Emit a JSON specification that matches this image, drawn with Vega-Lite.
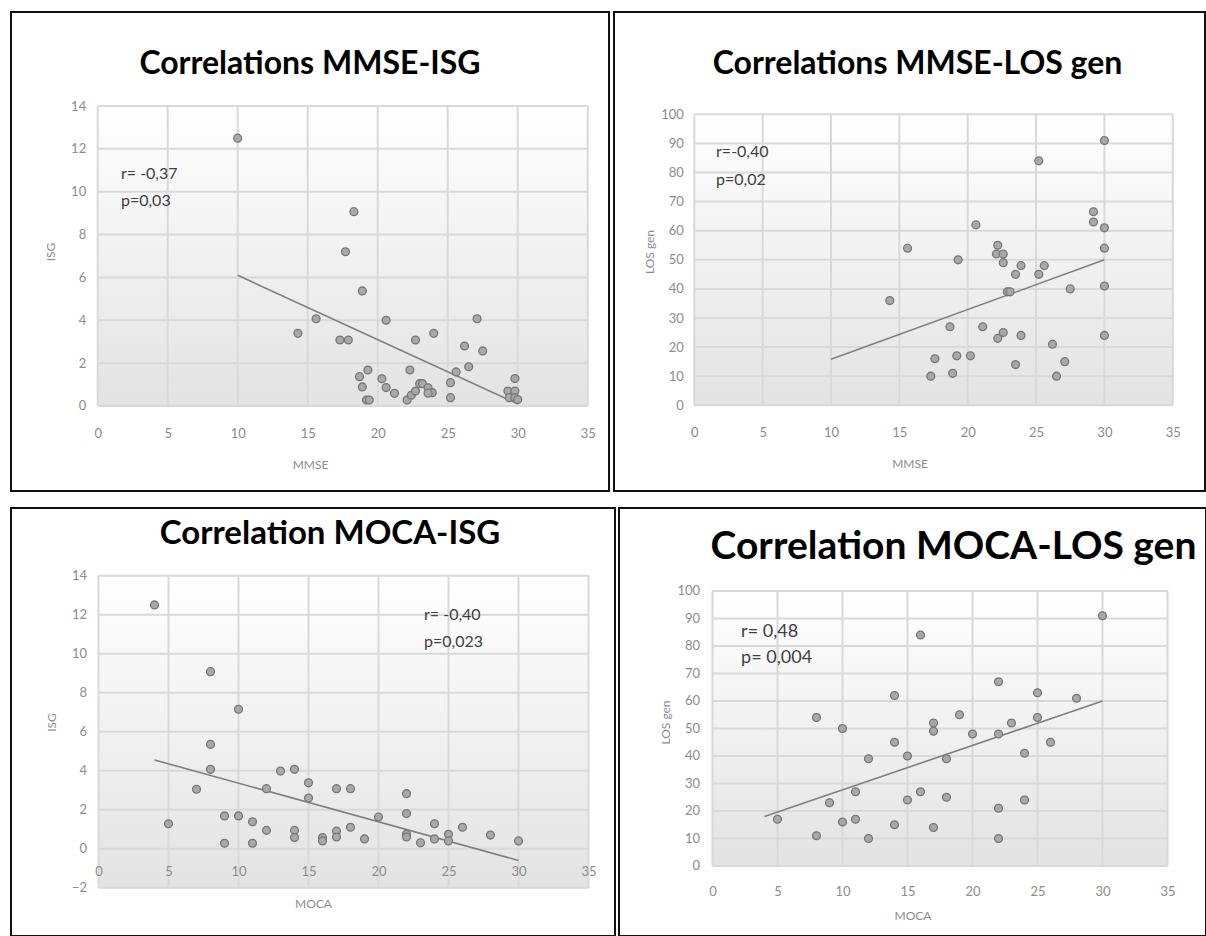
{
  "$schema": "https://vega.github.io/schema/vega-lite/v6.json",
  "background": "white",
  "padding": {"left": 10, "top": 11, "right": 0, "bottom": 0},
  "spacing": 15,
  "datasets": {
    "one": [{"k": 1}],
    "gx": [{"v": 0}, {"v": 5}, {"v": 10}, {"v": 15}, {"v": 20}, {"v": 25}, {"v": 30}, {"v": 35}],
    "gy14": [{"v": 0}, {"v": 2}, {"v": 4}, {"v": 6}, {"v": 8}, {"v": 10}, {"v": 12}, {"v": 14}],
    "gy14m": [{"v": -2}, {"v": 0}, {"v": 2}, {"v": 4}, {"v": 6}, {"v": 8}, {"v": 10}, {"v": 12}, {"v": 14}],
    "gy100": [{"v": 0}, {"v": 10}, {"v": 20}, {"v": 30}, {"v": 40}, {"v": 50}, {"v": 60}, {"v": 70}, {"v": 80}, {"v": 90}, {"v": 100}],
    "p1": [
      {"x": 10, "y": 12.5}, {"x": 18.3, "y": 9.07}, {"x": 17.7, "y": 7.2}, {"x": 15.6, "y": 4.07}, {"x": 14.3, "y": 3.39},
      {"x": 17.3, "y": 3.08}, {"x": 17.9, "y": 3.08}, {"x": 18.9, "y": 5.37}, {"x": 20.6, "y": 4.0}, {"x": 22.7, "y": 3.08},
      {"x": 24.0, "y": 3.39}, {"x": 27.1, "y": 4.07}, {"x": 26.2, "y": 2.8}, {"x": 27.5, "y": 2.57}, {"x": 19.3, "y": 1.68},
      {"x": 18.7, "y": 1.37}, {"x": 18.9, "y": 0.89}, {"x": 19.2, "y": 0.28}, {"x": 19.4, "y": 0.28}, {"x": 20.3, "y": 1.27},
      {"x": 20.6, "y": 0.86}, {"x": 21.2, "y": 0.59}, {"x": 22.3, "y": 1.68}, {"x": 22.1, "y": 0.28}, {"x": 22.4, "y": 0.5},
      {"x": 22.7, "y": 0.7}, {"x": 23.0, "y": 1.04}, {"x": 23.2, "y": 1.04}, {"x": 23.6, "y": 0.85}, {"x": 23.9, "y": 0.62},
      {"x": 23.6, "y": 0.6}, {"x": 25.2, "y": 1.09}, {"x": 25.6, "y": 1.59}, {"x": 25.2, "y": 0.39}, {"x": 26.5, "y": 1.83},
      {"x": 29.8, "y": 1.28}, {"x": 29.3, "y": 0.7}, {"x": 29.8, "y": 0.7}, {"x": 29.4, "y": 0.39}, {"x": 29.8, "y": 0.39},
      {"x": 30, "y": 0.3}
    ],
    "t1": [{"x": 10, "y": 6.1}, {"x": 30, "y": 0.1}],
    "p2": [
      {"x": 15.6, "y": 54}, {"x": 14.3, "y": 36}, {"x": 17.6, "y": 16}, {"x": 17.3, "y": 10}, {"x": 30, "y": 91},
      {"x": 25.2, "y": 84}, {"x": 29.2, "y": 66.5}, {"x": 29.2, "y": 63}, {"x": 30, "y": 61}, {"x": 20.6, "y": 62},
      {"x": 22.2, "y": 55}, {"x": 22.1, "y": 52}, {"x": 22.6, "y": 52}, {"x": 22.6, "y": 49}, {"x": 19.3, "y": 50},
      {"x": 23.9, "y": 48}, {"x": 23.5, "y": 45}, {"x": 25.6, "y": 48}, {"x": 25.2, "y": 45}, {"x": 30, "y": 54},
      {"x": 27.5, "y": 40}, {"x": 30, "y": 41}, {"x": 22.9, "y": 39}, {"x": 23.1, "y": 39}, {"x": 18.7, "y": 27},
      {"x": 21.1, "y": 27}, {"x": 22.2, "y": 23}, {"x": 22.6, "y": 25}, {"x": 23.9, "y": 24}, {"x": 30, "y": 24},
      {"x": 26.2, "y": 21}, {"x": 19.2, "y": 17}, {"x": 20.2, "y": 17}, {"x": 18.9, "y": 11}, {"x": 23.5, "y": 14},
      {"x": 27.1, "y": 15}, {"x": 26.5, "y": 10}
    ],
    "t2": [{"x": 10, "y": 15.8}, {"x": 30, "y": 50}],
    "p3": [
      {"x": 4, "y": 12.5}, {"x": 8, "y": 9.08}, {"x": 10, "y": 7.15}, {"x": 8, "y": 5.35}, {"x": 8, "y": 4.07},
      {"x": 7, "y": 3.05}, {"x": 5, "y": 1.28}, {"x": 9, "y": 1.68}, {"x": 10, "y": 1.68}, {"x": 11, "y": 1.38},
      {"x": 9, "y": 0.28}, {"x": 11, "y": 0.28}, {"x": 12, "y": 0.94}, {"x": 12, "y": 3.08}, {"x": 13, "y": 3.98},
      {"x": 14, "y": 4.07}, {"x": 15, "y": 3.38}, {"x": 15, "y": 2.6}, {"x": 14, "y": 0.94}, {"x": 14, "y": 0.57},
      {"x": 16, "y": 0.57}, {"x": 16, "y": 0.4}, {"x": 17, "y": 3.08}, {"x": 18, "y": 3.08}, {"x": 17, "y": 0.9},
      {"x": 17, "y": 0.6}, {"x": 18, "y": 1.1}, {"x": 19, "y": 0.5}, {"x": 20, "y": 1.62}, {"x": 22, "y": 2.82},
      {"x": 22, "y": 1.8}, {"x": 22, "y": 0.74}, {"x": 22, "y": 0.6}, {"x": 23, "y": 0.3}, {"x": 24, "y": 1.28},
      {"x": 24, "y": 0.5}, {"x": 25, "y": 0.74}, {"x": 25, "y": 0.4}, {"x": 26, "y": 1.1}, {"x": 28, "y": 0.7},
      {"x": 30, "y": 0.4}
    ],
    "t3": [{"x": 4, "y": 4.55}, {"x": 30, "y": -0.6}],
    "p4": [
      {"x": 5, "y": 17}, {"x": 8, "y": 54}, {"x": 8, "y": 11}, {"x": 9, "y": 23}, {"x": 10, "y": 50},
      {"x": 10, "y": 16}, {"x": 11, "y": 27}, {"x": 11, "y": 17}, {"x": 12, "y": 39}, {"x": 12, "y": 10},
      {"x": 14, "y": 62}, {"x": 14, "y": 45}, {"x": 14, "y": 15}, {"x": 15, "y": 40}, {"x": 15, "y": 24},
      {"x": 16, "y": 84}, {"x": 16, "y": 27}, {"x": 17, "y": 52}, {"x": 17, "y": 49}, {"x": 17, "y": 14},
      {"x": 18, "y": 39}, {"x": 18, "y": 25}, {"x": 19, "y": 55}, {"x": 20, "y": 48}, {"x": 22, "y": 67},
      {"x": 22, "y": 48}, {"x": 22, "y": 21}, {"x": 22, "y": 10}, {"x": 23, "y": 52}, {"x": 24, "y": 41},
      {"x": 24, "y": 24}, {"x": 25, "y": 63}, {"x": 25, "y": 54}, {"x": 26, "y": 45}, {"x": 28, "y": 61},
      {"x": 30, "y": 91}
    ],
    "t4": [{"x": 4, "y": 18}, {"x": 30, "y": 60}]
  },
  "vconcat": [
    {
      "spacing": 5,
      "bounds": "flush",
      "hconcat": [
        {
          "width": 598, "height": 479,
          "title": {"text": "Correlations MMSE-ISG", "fontSize": 32, "dy": 73, "dx": 0},
          "layer": [
            {"data": {"name": "one"}, "mark": {"type": "rect", "fill": {"gradient": "linear", "x1": 0, "y1": 0, "x2": 0, "y2": 1, "stops": [{"offset": 0, "color": "#ffffff"}, {"offset": 1, "color": "#e3e3e3"}]}, "stroke": "#c8c8c8", "strokeDash": [1, 2]},
             "encoding": {"x": {"datum": 0, "type": "quantitative"}, "x2": {"datum": 35}, "y": {"datum": 0, "type": "quantitative"}, "y2": {"datum": 14}}},
            {"data": {"name": "gx"}, "mark": {"type": "rule", "color": "#d9d9d9", "strokeWidth": 2},
             "encoding": {"x": {"field": "v", "type": "quantitative"}, "y": {"datum": 0, "type": "quantitative"}, "y2": {"datum": 14}}},
            {"data": {"name": "gy14"}, "mark": {"type": "rule", "color": "#d9d9d9", "strokeWidth": 2},
             "encoding": {"y": {"field": "v", "type": "quantitative"}, "x": {"datum": 0, "type": "quantitative"}, "x2": {"datum": 35}}},
            {"data": {"name": "t1"}, "mark": {"type": "line", "color": "#7f7f7f", "strokeWidth": 1.6},
             "encoding": {"x": {"field": "x", "type": "quantitative"}, "y": {"field": "y", "type": "quantitative"}}},
            {"data": {"name": "p1"}, "mark": {"type": "circle", "fill": "#a8a8a8", "stroke": "#777777", "strokeWidth": 1.3, "size": 62, "opacity": 1},
             "encoding": {"x": {"field": "x", "type": "quantitative"}, "y": {"field": "y", "type": "quantitative"}}},
            {"data": {"name": "one"}, "mark": {"type": "text", "align": "left", "baseline": "alphabetic", "lineBreak": "\n", "lineHeight": 27, "fontSize": 16, "color": "#404040"},
             "encoding": {"x": {"datum": 1.66, "type": "quantitative"}, "y": {"datum": 10.59, "type": "quantitative"}, "text": {"value": "r= -0,37\np=0,03"}}}
          ],
          "encoding": {
            "x": {"type": "quantitative", "scale": {"domain": [-6.193, 36.521], "nice": false, "zero": false},
                  "axis": {"zindex": 1, "values": [0, 5, 10, 15, 20, 25, 30, 35], "offset": -85, "labelPadding": 21, "title": "MMSE", "titlePadding": 19}},
            "y": {"type": "quantitative", "scale": {"domain": [-3.967, 18.387], "nice": false, "zero": false},
                  "axis": {"zindex": 1, "values": [0, 2, 4, 6, 8, 10, 12, 14], "offset": -86.7, "labelPadding": 12, "title": "ISG", "titlePadding": 13}}
          }
        },
        {
          "width": 591, "height": 479,
          "title": {"text": "Correlations MMSE-LOS gen", "fontSize": 32, "dy": 73, "dx": 8},
          "layer": [
            {"data": {"name": "one"}, "mark": {"type": "rect", "fill": {"gradient": "linear", "x1": 0, "y1": 0, "x2": 0, "y2": 1, "stops": [{"offset": 0, "color": "#ffffff"}, {"offset": 1, "color": "#e3e3e3"}]}, "stroke": "#c8c8c8", "strokeDash": [1, 2]},
             "encoding": {"x": {"datum": 0, "type": "quantitative"}, "x2": {"datum": 35}, "y": {"datum": 0, "type": "quantitative"}, "y2": {"datum": 100}}},
            {"data": {"name": "gx"}, "mark": {"type": "rule", "color": "#d9d9d9", "strokeWidth": 2},
             "encoding": {"x": {"field": "v", "type": "quantitative"}, "y": {"datum": 0, "type": "quantitative"}, "y2": {"datum": 100}}},
            {"data": {"name": "gy100"}, "mark": {"type": "rule", "color": "#d9d9d9", "strokeWidth": 2},
             "encoding": {"y": {"field": "v", "type": "quantitative"}, "x": {"datum": 0, "type": "quantitative"}, "x2": {"datum": 35}}},
            {"data": {"name": "t2"}, "mark": {"type": "line", "color": "#7f7f7f", "strokeWidth": 1.6},
             "encoding": {"x": {"field": "x", "type": "quantitative"}, "y": {"field": "y", "type": "quantitative"}}},
            {"data": {"name": "p2"}, "mark": {"type": "circle", "fill": "#a8a8a8", "stroke": "#777777", "strokeWidth": 1.3, "size": 62, "opacity": 1},
             "encoding": {"x": {"field": "x", "type": "quantitative"}, "y": {"field": "y", "type": "quantitative"}}},
            {"data": {"name": "one"}, "mark": {"type": "text", "align": "left", "baseline": "alphabetic", "lineBreak": "\n", "lineHeight": 28, "fontSize": 16, "color": "#404040"},
             "encoding": {"x": {"datum": 1.59, "type": "quantitative"}, "y": {"datum": 85.3, "type": "quantitative"}, "text": {"value": "r=-0,40\np=0,02"}}}
          ],
          "encoding": {
            "x": {"type": "quantitative", "scale": {"domain": [-5.874, 37.359], "nice": false, "zero": false},
                  "axis": {"zindex": 1, "values": [0, 5, 10, 15, 20, 25, 30, 35], "offset": -85.7, "labelPadding": 21, "title": "MMSE", "titlePadding": 19}},
            "y": {"type": "quantitative", "scale": {"domain": [-29.45, 135.155], "nice": false, "zero": false},
                  "axis": {"zindex": 1, "values": [0, 10, 20, 30, 40, 50, 60, 70, 80, 90, 100], "offset": -80.3, "labelPadding": 11, "title": "LOS gen", "titlePadding": 4}}
          }
        }
      ]
    },
    {
      "spacing": 4,
      "bounds": "flush",
      "hconcat": [
        {
          "width": 604, "height": 428,
          "title": {"text": "Correlation MOCA-ISG", "fontSize": 33, "dy": 47, "dx": 17},
          "layer": [
            {"data": {"name": "one"}, "mark": {"type": "rect", "fill": {"gradient": "linear", "x1": 0, "y1": 0, "x2": 0, "y2": 1, "stops": [{"offset": 0, "color": "#ffffff"}, {"offset": 1, "color": "#e3e3e3"}]}, "stroke": "#c8c8c8", "strokeDash": [1, 2]},
             "encoding": {"x": {"datum": 0, "type": "quantitative"}, "x2": {"datum": 35}, "y": {"datum": -2, "type": "quantitative"}, "y2": {"datum": 14}}},
            {"data": {"name": "gx"}, "mark": {"type": "rule", "color": "#d9d9d9", "strokeWidth": 2},
             "encoding": {"x": {"field": "v", "type": "quantitative"}, "y": {"datum": -2, "type": "quantitative"}, "y2": {"datum": 14}}},
            {"data": {"name": "gy14m"}, "mark": {"type": "rule", "color": "#d9d9d9", "strokeWidth": 2},
             "encoding": {"y": {"field": "v", "type": "quantitative"}, "x": {"datum": 0, "type": "quantitative"}, "x2": {"datum": 35}}},
            {"data": {"name": "t3"}, "mark": {"type": "line", "color": "#7f7f7f", "strokeWidth": 1.6},
             "encoding": {"x": {"field": "x", "type": "quantitative"}, "y": {"field": "y", "type": "quantitative"}}},
            {"data": {"name": "p3"}, "mark": {"type": "circle", "fill": "#a8a8a8", "stroke": "#777777", "strokeWidth": 1.3, "size": 62, "opacity": 1},
             "encoding": {"x": {"field": "x", "type": "quantitative"}, "y": {"field": "y", "type": "quantitative"}}},
            {"data": {"name": "one"}, "mark": {"type": "text", "align": "left", "baseline": "alphabetic", "lineBreak": "\n", "lineHeight": 27, "fontSize": 16, "color": "#404040"},
             "encoding": {"x": {"datum": 23.25, "type": "quantitative"}, "y": {"datum": 11.73, "type": "quantitative"}, "text": {"value": "r= -0,40\np=0,023"}}}
          ],
          "encoding": {
            "x": {"type": "quantitative", "scale": {"domain": [-6.25, 36.893], "nice": false, "zero": false},
                  "axis": {"zindex": 1, "values": [0, 5, 10, 15, 20, 25, 30, 35], "offset": -87.3, "labelPadding": 17, "title": "MOCA", "titlePadding": 20}},
            "y": {"type": "quantitative", "scale": {"domain": [-4.477, 17.472], "nice": false, "zero": false},
                  "axis": {"zindex": 1, "values": [-2, 0, 2, 4, 6, 8, 10, 12, 14], "offset": -87.5, "labelPadding": 12, "title": "ISG", "titlePadding": 13}}
          }
        },
        {
          "width": 587, "height": 428,
          "title": {"text": "Correlation MOCA-LOS gen", "fontSize": 39, "dy": 63, "dx": 41},
          "layer": [
            {"data": {"name": "one"}, "mark": {"type": "rect", "fill": {"gradient": "linear", "x1": 0, "y1": 0, "x2": 0, "y2": 1, "stops": [{"offset": 0, "color": "#ffffff"}, {"offset": 1, "color": "#e3e3e3"}]}, "stroke": "#c8c8c8", "strokeDash": [1, 2]},
             "encoding": {"x": {"datum": 0, "type": "quantitative"}, "x2": {"datum": 35}, "y": {"datum": 0, "type": "quantitative"}, "y2": {"datum": 100}}},
            {"data": {"name": "gx"}, "mark": {"type": "rule", "color": "#d9d9d9", "strokeWidth": 2},
             "encoding": {"x": {"field": "v", "type": "quantitative"}, "y": {"datum": 0, "type": "quantitative"}, "y2": {"datum": 100}}},
            {"data": {"name": "gy100"}, "mark": {"type": "rule", "color": "#d9d9d9", "strokeWidth": 2},
             "encoding": {"y": {"field": "v", "type": "quantitative"}, "x": {"datum": 0, "type": "quantitative"}, "x2": {"datum": 35}}},
            {"data": {"name": "t4"}, "mark": {"type": "line", "color": "#7f7f7f", "strokeWidth": 1.6},
             "encoding": {"x": {"field": "x", "type": "quantitative"}, "y": {"field": "y", "type": "quantitative"}}},
            {"data": {"name": "p4"}, "mark": {"type": "circle", "fill": "#a8a8a8", "stroke": "#777777", "strokeWidth": 1.3, "size": 62, "opacity": 1},
             "encoding": {"x": {"field": "x", "type": "quantitative"}, "y": {"field": "y", "type": "quantitative"}}},
            {"data": {"name": "one"}, "mark": {"type": "text", "align": "left", "baseline": "alphabetic", "lineBreak": "\n", "lineHeight": 26, "fontSize": 18, "color": "#404040"},
             "encoding": {"x": {"datum": 2.2, "type": "quantitative"}, "y": {"datum": 83.3, "type": "quantitative"}, "text": {"value": "r= 0,48\np= 0,004"}}}
          ],
          "encoding": {
            "x": {"type": "quantitative", "scale": {"domain": [-7.192, 37.962], "nice": false, "zero": false},
                  "axis": {"zindex": 1, "values": [0, 5, 10, 15, 20, 25, 30, 35], "offset": -70, "labelPadding": 19, "title": "MOCA", "titlePadding": 12}},
            "y": {"type": "quantitative", "scale": {"domain": [-25.455, 130.18], "nice": false, "zero": false},
                  "axis": {"zindex": 1, "values": [0, 10, 20, 30, 40, 50, 60, 70, 80, 90, 100], "offset": -93.5, "labelPadding": 13, "title": "LOS gen", "titlePadding": 4}}
          }
        }
      ]
    }
  ],
  "config": {
    "view": {"stroke": "#111111", "strokeWidth": 2},
    "font": "Lato",
    "axis": {"labelFont": "Lato", "labelColor": "#8c8c8c", "labelFontSize": 13, "titleFont": "Lato", "titleColor": "#8c8c8c", "titleFontSize": 12, "titleFontWeight": "normal", "grid": false, "domain": false, "ticks": false},
    "title": {"font": "Lato", "fontWeight": "bold", "color": "#000000", "anchor": "middle", "frame": "group", "offset": 0, "baseline": "alphabetic"}
  }
}
